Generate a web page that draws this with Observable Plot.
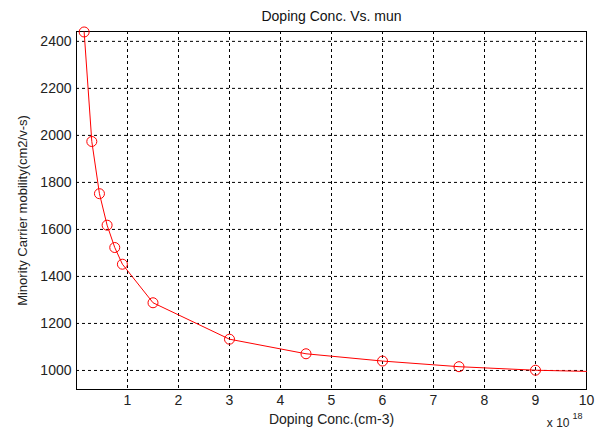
<!DOCTYPE html>
<html>
<head>
<meta charset="utf-8">
<script src="https://cdn.jsdelivr.net/npm/d3@7"></script>
<script src="https://cdn.jsdelivr.net/npm/@observablehq/plot@0.6"></script>
<style>
  html, body { margin: 0; padding: 0; background: #fff; }
  svg { display: block; }
</style>
</head>
<body>
<div id="chart"></div>
<script>
// Doping concentration (x 10^18 cm^-3)
const dopingConc = [0.15, 0.3, 0.45, 0.6, 0.75, 0.9, 1.5, 3, 4.5, 6, 7.5, 9, 10];
// Minority carrier mobility (cm2/V-s)
const mobility = [2440, 1974, 1752, 1618, 1523, 1452, 1288, 1133, 1071, 1040, 1016, 1001, 996];
// Whether a marker is drawn at the point
const hasMarker = [true, true, true, true, true, true, true, true, true, true, true, true, false];
const xTicks = [1, 2, 3, 4, 5, 6, 7, 8, 9, 10];
const yTicks = [1000, 1200, 1400, 1600, 1800, 2000, 2200, 2400];

const titleText = "Doping Conc. Vs. mun";
const xLabel = "Doping Conc.(cm-3)";
const yLabel = "Minority Carrier mobility(cm2/v-s)";

const data = dopingConc.map((x, i) => ({x, y: mobility[i], marker: hasMarker[i]}));

const font = "Liberation Sans, Arial, sans-serif";

const chart = Plot.plot({
  width: 598,
  height: 430,
  marginLeft: 76,
  marginRight: 12,
  marginTop: 31,
  marginBottom: 41,
  style: {fontFamily: font, fontSize: "14px", color: "#000", background: "#fff"},
  x: {domain: [0, 10]},
  y: {domain: [919, 2442]},
  marks: [
    Plot.gridX(xTicks, {stroke: "#000", strokeOpacity: 1, strokeDasharray: "3,3"}),
    Plot.gridY(yTicks, {stroke: "#000", strokeOpacity: 1, strokeDasharray: "3,3"}),
    Plot.frame({stroke: "#000", strokeWidth: 1}),
    Plot.axisX(xTicks, {tickSize: 0, tickPadding: 6, fontSize: 14, fill: "#222", label: null}),
    Plot.axisY(yTicks, {tickSize: 0, tickPadding: 5, tickFormat: "d", fontSize: 14, fill: "#222", label: null}),
    Plot.text([xLabel], {frameAnchor: "bottom", lineAnchor: "middle", dy: 30, fontSize: 14, fill: "#222", style: "letter-spacing: 0.5px"}),
    Plot.text([yLabel], {frameAnchor: "left", textAnchor: "middle", lineAnchor: "middle", dx: -54, rotate: -90, fontSize: 13, fill: "#222"}),
    Plot.line(data, {x: "x", y: "y", stroke: "#ff0000", strokeWidth: 1}),
    Plot.dot(data.filter(d => d.marker), {x: "x", y: "y", r: 5, stroke: "#ff0000", strokeWidth: 1, fill: "none"}),
    Plot.text([titleText], {frameAnchor: "top", lineAnchor: "middle", dy: -15, fontSize: 14, fill: "#111"}),
    Plot.text(["x 10"], {frameAnchor: "bottom-right", lineAnchor: "middle", dx: -17, dy: 34, textAnchor: "end", fontSize: 12, fill: "#222"}),
    Plot.text(["18"], {frameAnchor: "bottom-right", lineAnchor: "middle", dx: -4, dy: 27, textAnchor: "end", fontSize: 9, fill: "#222"})
  ]
});
document.getElementById("chart").appendChild(chart);
</script>
</body>
</html>
